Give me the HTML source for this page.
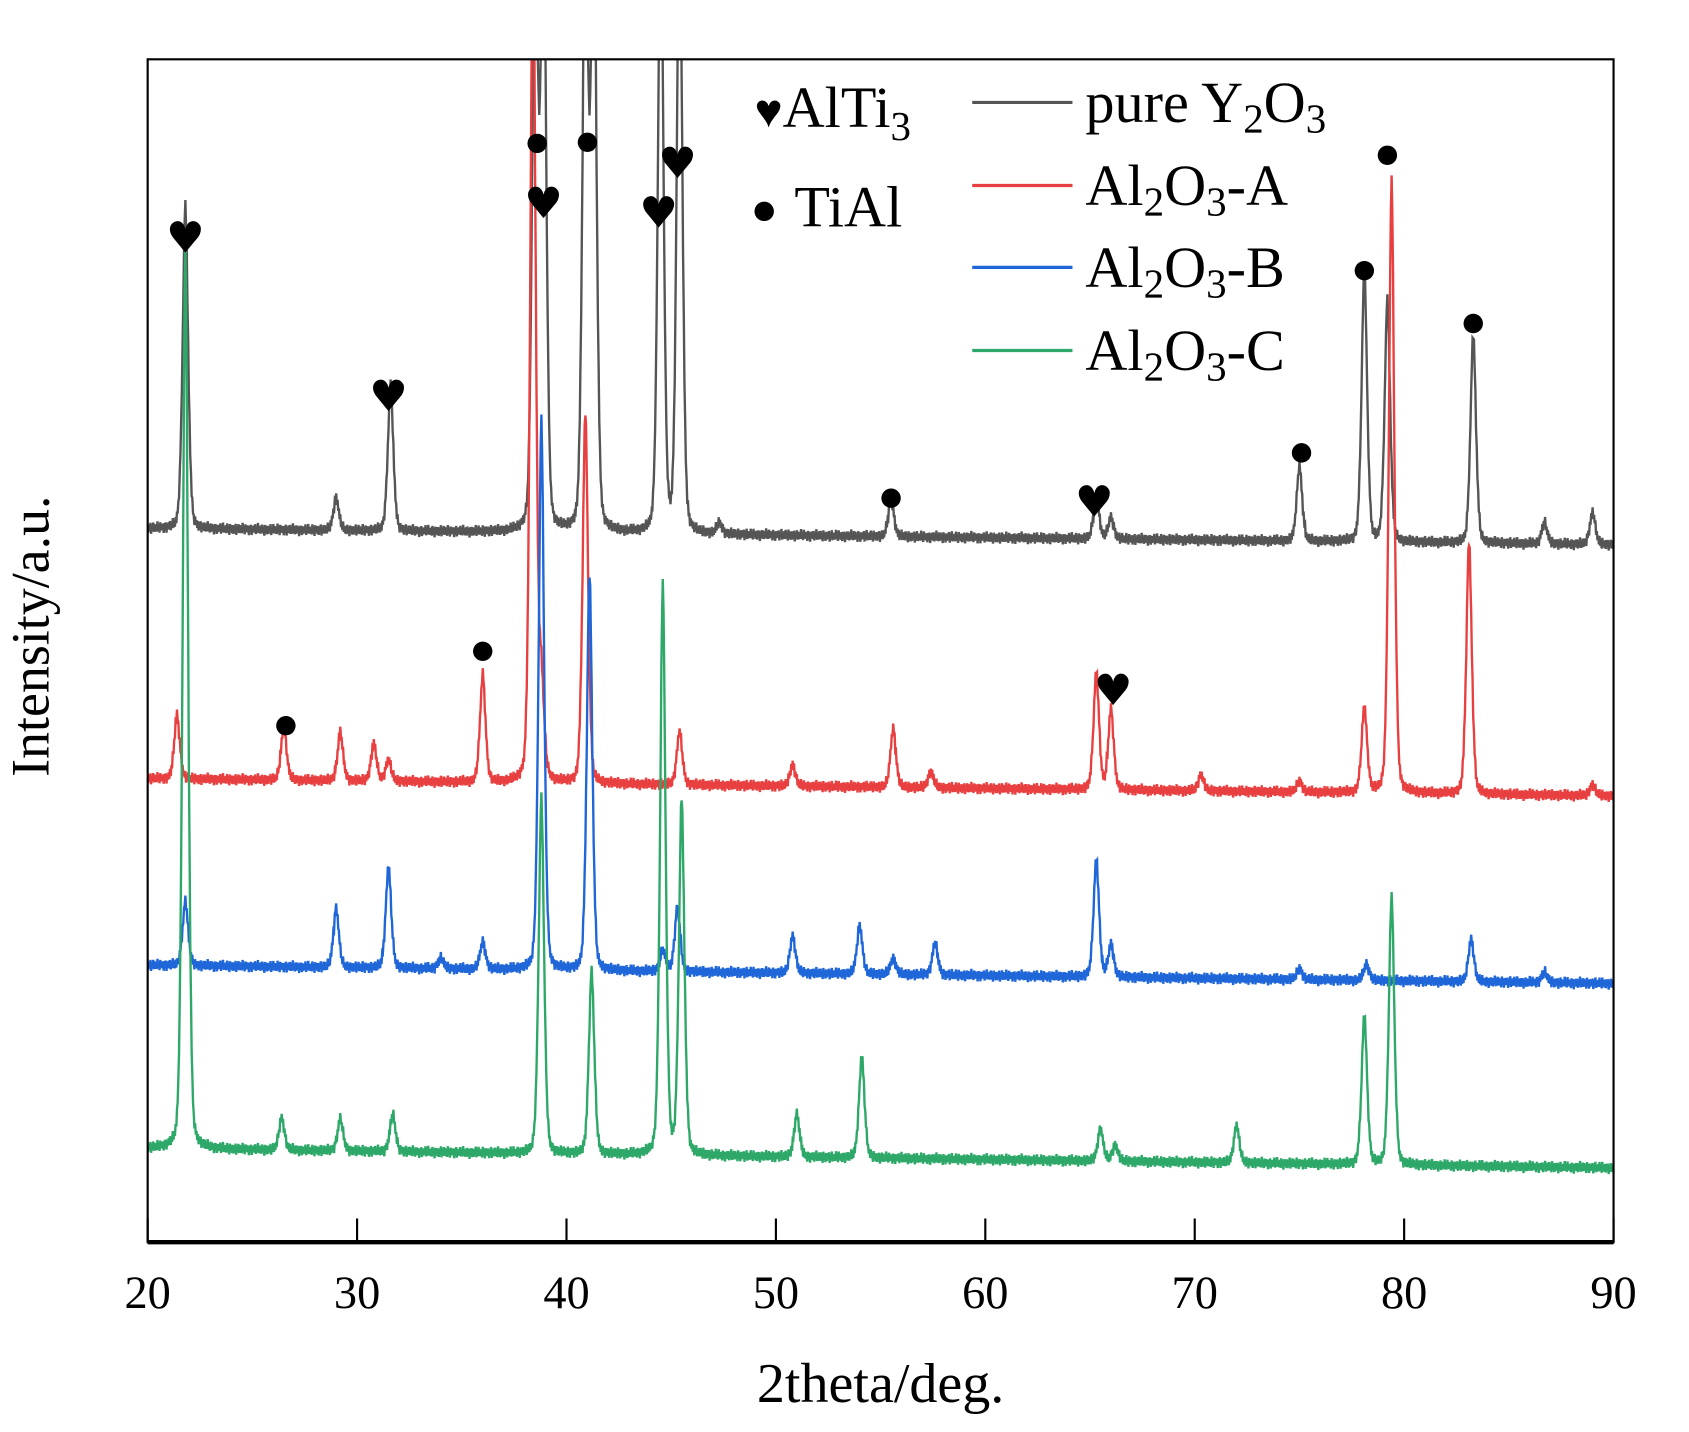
<!DOCTYPE html>
<html><head><meta charset="utf-8"><style>
html,body{margin:0;padding:0;background:#fff;}
svg{display:block;font-family:"Liberation Serif","DejaVu Serif",serif;}
</style></head><body>
<svg id="chart" width="1689" height="1432" viewBox="0 0 1567 1328" preserveAspectRatio="none" xmlns="http://www.w3.org/2000/svg">
<defs><clipPath id="pc"><rect x="137" y="55" width="1360" height="1097"/></clipPath></defs>
<rect x="0" y="0" width="1567" height="1328" fill="#fff"/>
<g id="series" clip-path="url(#pc)"></g>
<rect x="137" y="55" width="1360" height="1097" fill="none" stroke="#000" stroke-width="2"/>
<line x1="137" y1="1152" x2="1497" y2="1152" stroke="#000" stroke-width="4"/>
<g id="ticks"></g>
<text x="817" y="1300" font-size="52" text-anchor="middle">2theta/deg.</text>
<text transform="translate(45,590) rotate(-90)" font-size="50" text-anchor="middle">Intensity/a.u.</text>
<g>
<text x="700" y="118" font-size="54"><tspan font-size="44">♥</tspan>AlTi<tspan font-size="38" dy="12">3</tspan></text>
<circle cx="709" cy="196" r="9" fill="#000"/>
<text x="737" y="210" font-size="54">TiAl</text>
<line x1="902" y1="95" x2="995" y2="95" stroke="#555" stroke-width="3"/>
<text x="1007" y="113" font-size="54">pure Y<tspan font-size="38" dy="10">2</tspan><tspan dy="-10">O</tspan><tspan font-size="38" dy="10">3</tspan></text>
<line x1="902" y1="172" x2="995" y2="172" stroke="#e84040" stroke-width="3"/>
<text x="1007" y="190" font-size="54">Al<tspan font-size="38" dy="10">2</tspan><tspan dy="-10">O</tspan><tspan font-size="38" dy="10">3</tspan><tspan dy="-10">-A</tspan></text>
<line x1="902" y1="248" x2="995" y2="248" stroke="#1f66d8" stroke-width="3"/>
<text x="1007" y="266" font-size="54">Al<tspan font-size="38" dy="10">2</tspan><tspan dy="-10">O</tspan><tspan font-size="38" dy="10">3</tspan><tspan dy="-10">-B</tspan></text>
<line x1="902" y1="325" x2="995" y2="325" stroke="#2ea868" stroke-width="3"/>
<text x="1007" y="343" font-size="54">Al<tspan font-size="38" dy="10">2</tspan><tspan dy="-10">O</tspan><tspan font-size="38" dy="10">3</tspan><tspan dy="-10">-C</tspan></text>
</g>
<g id="marks"></g>
</svg>
<script>
const xTicks = [20,30,40,50,60,70,80,90];
const seriesNames = ["pure-y2o3","al2o3-a","al2o3-b","al2o3-c"];
const seriesColors = ["#555555","#e84040","#1f66d8","#2ea868"];
const baseStart = [490, 722, 895, 1065];
const baseEnd = [505, 738, 912, 1083];
const grayPos = [21.8,29.0,31.6,38.5,38.9,40.9,41.3,44.5,45.4,47.3,55.5,65.3,66.0,75.0,78.1,79.2,83.3,86.7,89.0];
const grayH   = [300,30,135,600,600,600,600,600,600,10,35,40,20,70,255,225,195,20,30];
const redPos = [21.4,26.5,29.2,30.8,31.5,36.0,38.4,38.8,40.9,45.4,50.8,55.6,57.4,65.3,66.0,70.3,75.0,78.1,79.4,83.1,89.0];
const redH   = [60,50,45,35,20,100,800,90,345,50,20,55,15,110,75,15,10,80,570,235,10];
const bluePos = [21.8,29.0,31.5,34.0,36.0,38.8,41.1,44.6,45.3,50.8,54.0,55.6,57.6,65.3,66.0,75.0,78.2,83.2,86.7];
const blueH   = [60,55,95,10,25,510,370,20,60,35,45,15,30,110,30,10,15,40,10];
const greenPos = [21.8,26.4,29.2,31.7,38.8,41.2,44.6,45.5,51.0,54.1,65.5,66.2,72.0,78.1,79.4];
const greenH   = [830,30,30,35,330,170,530,330,40,95,30,15,35,140,250];
const heartMarks = [[21.8,220],[31.5,367],[38.9,188],[44.4,197],[45.3,151],[65.2,465],[66.1,640]];
const dotMarks = [[38.6,133],[41.0,132],[55.5,462],[75.1,420],[78.1,251],[79.2,144],[83.3,300],[36.0,604],[26.6,673]];

const X0=137, X1=1497;
function xs(v){return X0+(v-20)*(X1-X0)/70;}
const NS="http://www.w3.org/2000/svg";
const allPos=[grayPos,redPos,bluePos,greenPos], allH=[grayH,redH,blueH,greenH];
const g=document.getElementById('series');
for(let s=0;s<4;s++){
  let d="";
  for(let i=0;i<=2100;i++){
    const t=20+i*70/2100;
    let y=baseStart[s]+(baseEnd[s]-baseStart[s])*(t-20)/70;
    const P=allPos[s],H=allH[s];
    for(let k=0;k<P.length;k++){
      const w=0.2; const dx=(t-P[k])/w;
      y-=H[k]*(0.65*Math.exp(-dx*dx)+0.35/(1+dx*dx*3));
    }
    y+=((i%2)?5:-5)*(0.7+0.5*Math.sin(i*1.7)*Math.sin(i*0.31));
    d+=(i?"L":"M")+xs(t).toFixed(1)+","+y.toFixed(1);
  }
  const p=document.createElementNS(NS,'path');
  p.setAttribute('d',d);p.setAttribute('fill','none');
  p.setAttribute('stroke',seriesColors[s]);p.setAttribute('stroke-width','2.2');
  
  
  g.appendChild(p);
}
const tg=document.getElementById('ticks');
xTicks.forEach(v=>{
  const l=document.createElementNS(NS,'line');
  l.setAttribute('x1',xs(v));l.setAttribute('x2',xs(v));l.setAttribute('y1',1152);l.setAttribute('y2',1130);
  l.setAttribute('stroke','#000');l.setAttribute('stroke-width','2');
  
  
  tg.appendChild(l);
  const tx=document.createElementNS(NS,'text');
  tx.setAttribute('x',xs(v));tx.setAttribute('y',1213);tx.setAttribute('font-size','43');tx.setAttribute('text-anchor','middle');
  tx.textContent=v;
  
  
  tg.appendChild(tx);
});
const mg=document.getElementById('marks');
heartMarks.forEach(m=>{
  const tx=document.createElementNS(NS,'text');
  tx.setAttribute('x',xs(m[0]));tx.setAttribute('y',m[1]+14);tx.setAttribute('font-size','40');tx.setAttribute('text-anchor','middle');
  tx.setAttribute('font-family','"DejaVu Sans",sans-serif');
  tx.textContent='♥';
  
  
  mg.appendChild(tx);
});
dotMarks.forEach(m=>{
  const c=document.createElementNS(NS,'circle');
  c.setAttribute('cx',xs(m[0]));c.setAttribute('cy',m[1]);c.setAttribute('r','9');c.setAttribute('fill','#000');
  
  
  mg.appendChild(c);
});
</script>
</body></html>
